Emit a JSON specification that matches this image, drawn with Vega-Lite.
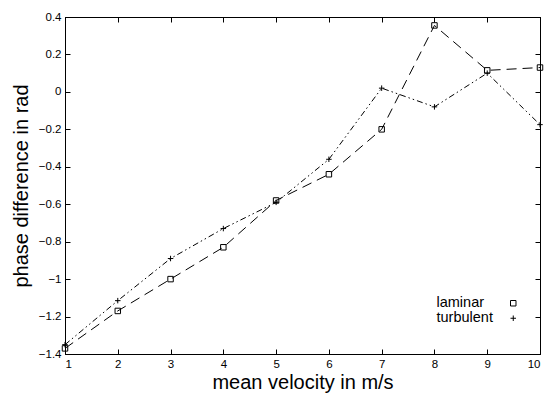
{
  "$schema": "https://vega.github.io/schema/vega-lite/v6.json",
  "width": 475,
  "height": 337,
  "autosize": "none",
  "padding": {"left": 65, "top": 17, "right": 9, "bottom": 42},
  "background": "white",
  "config": {
    "font": "Liberation Sans",
    "view": {"stroke": "black", "strokeWidth": 1},
    "axis": {
      "domainColor": "black", "tickColor": "black", "labelColor": "black", "titleColor": "black",
      "labelFont": "Liberation Sans", "titleFont": "Liberation Sans",
      "labelFontSize": 11.5, "titleFontSize": 20, "titleFontWeight": "normal",
      "grid": false, "tickSize": -5, "labelPadding": 9
    }
  },
  "data": {
    "values": [
      {"v": 1, "phase": -1.37, "flow": "laminar"},
      {"v": 2, "phase": -1.17, "flow": "laminar"},
      {"v": 3, "phase": -1.0, "flow": "laminar"},
      {"v": 4, "phase": -0.83, "flow": "laminar"},
      {"v": 5, "phase": -0.58, "flow": "laminar"},
      {"v": 6, "phase": -0.44, "flow": "laminar"},
      {"v": 7, "phase": -0.2, "flow": "laminar"},
      {"v": 8, "phase": 0.355, "flow": "laminar"},
      {"v": 9, "phase": 0.115, "flow": "laminar"},
      {"v": 10, "phase": 0.13, "flow": "laminar"},
      {"v": 1, "phase": -1.35, "flow": "turbulent"},
      {"v": 2, "phase": -1.115, "flow": "turbulent"},
      {"v": 3, "phase": -0.89, "flow": "turbulent"},
      {"v": 4, "phase": -0.73, "flow": "turbulent"},
      {"v": 5, "phase": -0.59, "flow": "turbulent"},
      {"v": 6, "phase": -0.36, "flow": "turbulent"},
      {"v": 7, "phase": 0.02, "flow": "turbulent"},
      {"v": 8, "phase": -0.08, "flow": "turbulent"},
      {"v": 9, "phase": 0.1, "flow": "turbulent"},
      {"v": 10, "phase": -0.175, "flow": "turbulent"}
    ]
  },
  "resolve": {"axis": {"x": "independent", "y": "independent"}},
  "layer": [
    {
      "transform": [{"filter": "datum.flow === 'laminar'"}],
      "mark": {"type": "line", "color": "black", "strokeWidth": 1, "strokeDash": [10, 6]},
      "encoding": {
        "x": {"field": "v", "type": "quantitative", "scale": {"domain": [1, 10], "nice": false, "zero": false},
          "axis": {"title": "mean velocity in m/s", "values": [1,2,3,4,5,6,7,8,9,10], "format": "d", "titlePadding": 3}},
        "y": {"field": "phase", "type": "quantitative", "scale": {"domain": [-1.4, 0.4], "nice": false, "zero": false},
          "axis": {"title": "phase difference in rad", "values": [-1.4,-1.2,-1,-0.8,-0.6,-0.4,-0.2,0,0.2,0.4], "format": ".1~f", "titlePadding": 7}}
      }
    },
    {
      "transform": [{"filter": "datum.flow === 'turbulent'"}],
      "mark": {"type": "line", "color": "black", "strokeWidth": 1, "strokeDash": [6, 3, 1.5, 3, 1.5, 3]},
      "encoding": {
        "x": {"field": "v", "type": "quantitative",
          "axis": {"orient": "top", "title": null, "labels": false, "values": [1,2,3,4,5,6,7,8,9,10]}},
        "y": {"field": "phase", "type": "quantitative",
          "axis": {"orient": "right", "title": null, "labels": false, "values": [-1.4,-1.2,-1,-0.8,-0.6,-0.4,-0.2,0,0.2,0.4]}}
      }
    },
    {
      "mark": {"type": "point", "filled": false, "color": "black", "strokeWidth": 1, "opacity": 1},
      "encoding": {
        "x": {"field": "v", "type": "quantitative", "axis": null},
        "y": {"field": "phase", "type": "quantitative", "axis": null},
        "shape": {"field": "flow", "type": "nominal",
          "scale": {"domain": ["laminar", "turbulent"], "range": ["square", "M-1,0L1,0M0,-1L0,1"]},
          "legend": {"title": null, "orient": "none", "legendX": 441, "legendY": 279, "padding": 0,
            "labelFontSize": 14.5, "labelColor": "black", "labelOffset": -84, "rowPadding": 0,
            "symbolStrokeColor": "black", "symbolFillColor": "transparent", "symbolSize": 30, "symbolStrokeWidth": 1}},
        "size": {"value": 30}
      }
    }
  ]
}
